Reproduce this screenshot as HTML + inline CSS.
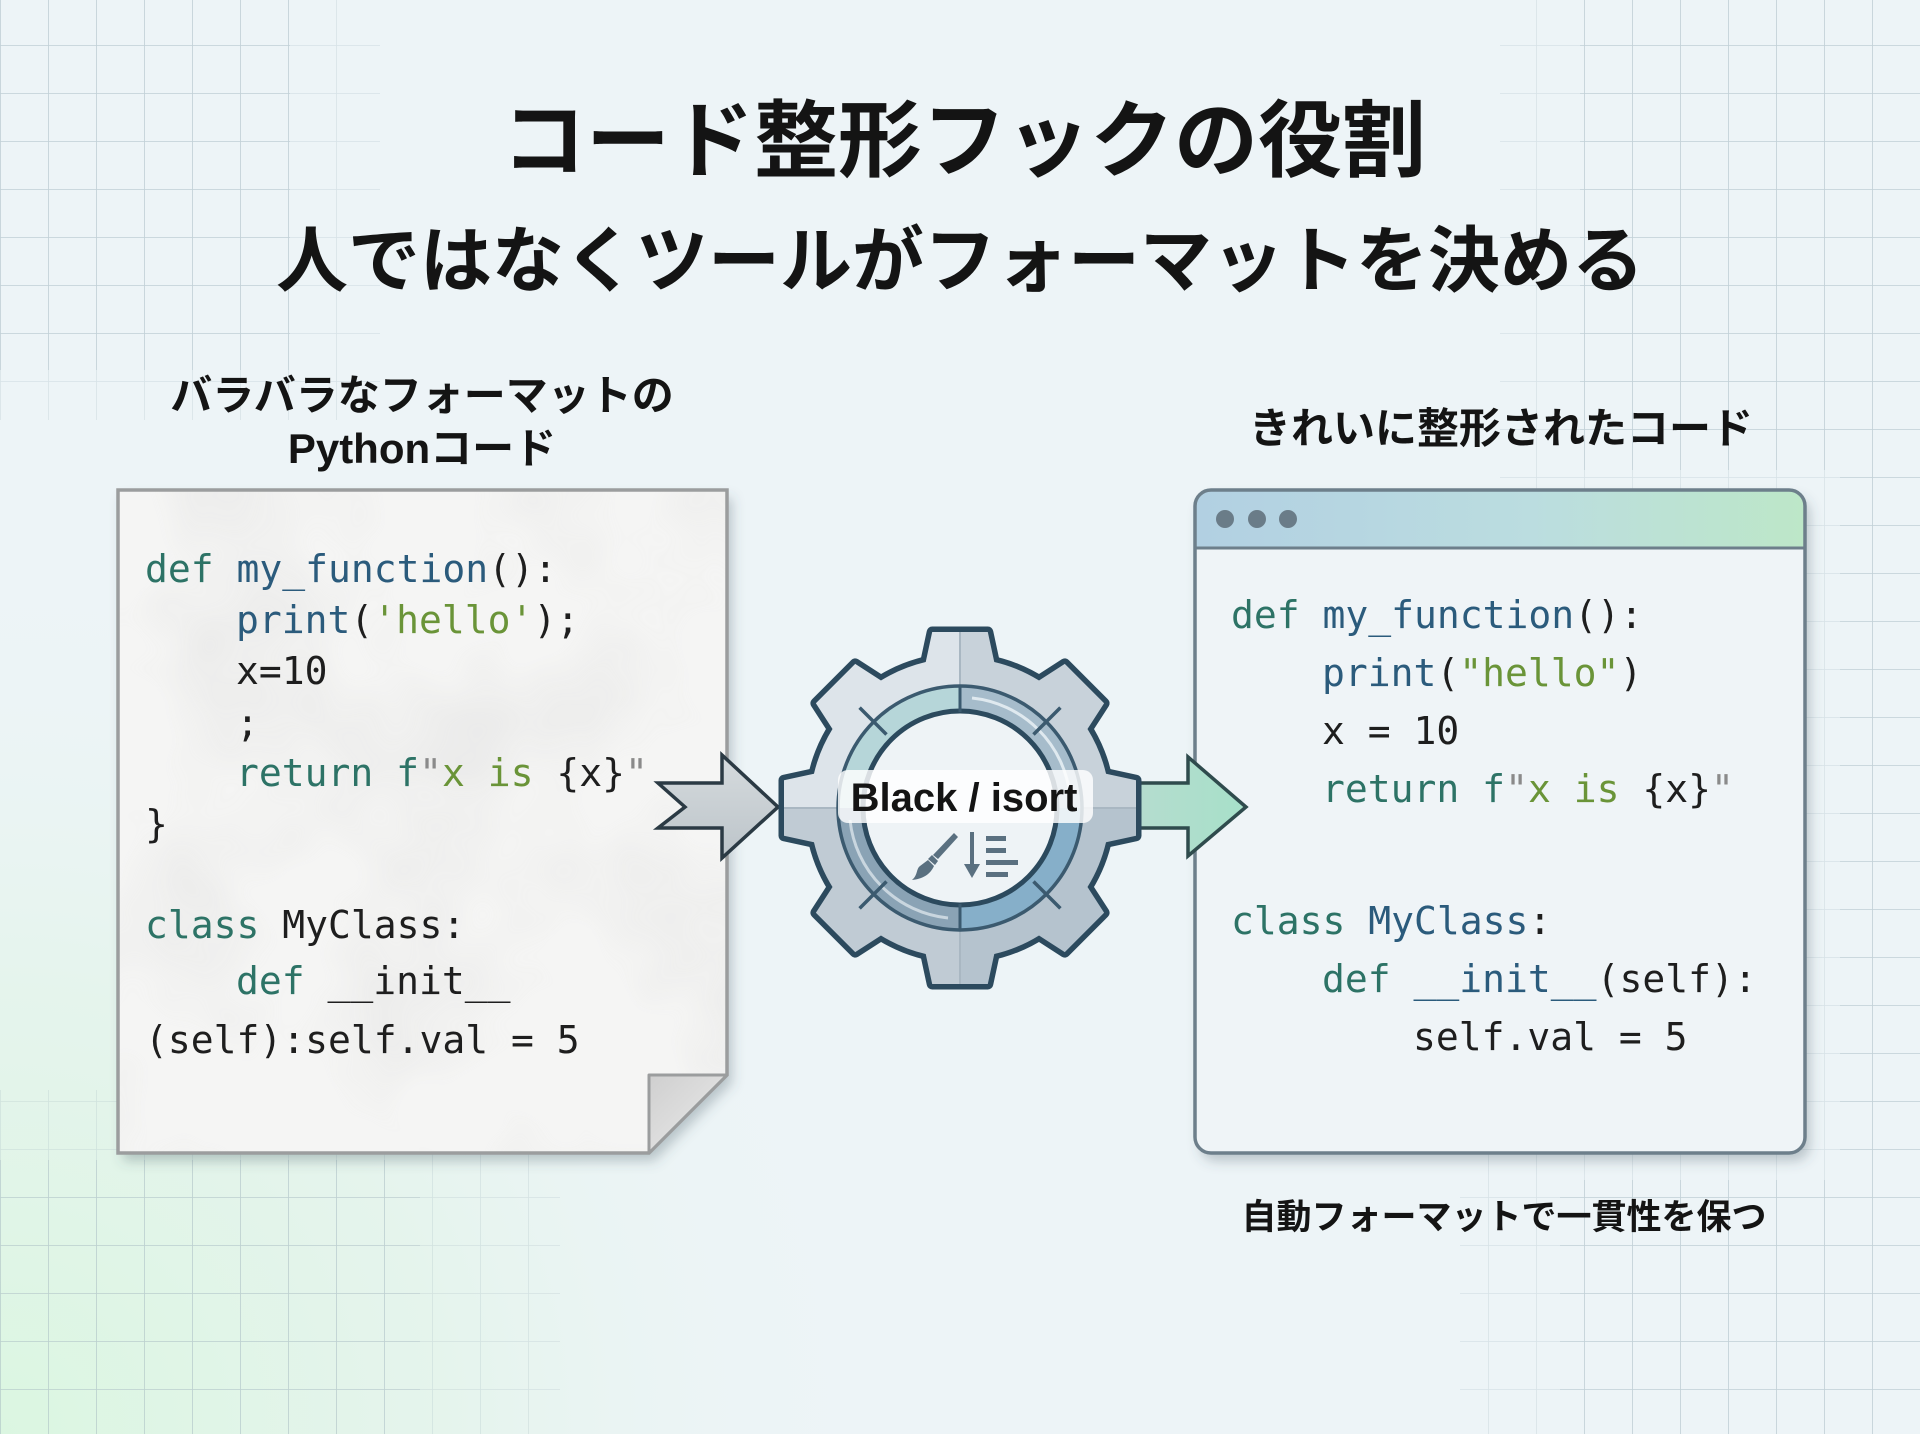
<!DOCTYPE html>
<html><head><meta charset="utf-8"><style>
html,body{margin:0;padding:0;width:1920px;height:1434px;overflow:hidden;background:#edf4f7}
svg{display:block}
.jp{font-family:"Liberation Sans","Noto Sans CJK JP",sans-serif;font-weight:700;fill:#141414}
.code{font-family:"DejaVu Sans Mono","Liberation Mono",monospace;font-size:38px;fill:#1e1e1e}
.k{fill:#2d7366}.b{fill:#2b5b7c}.s{fill:#6a9438}.g{fill:#8a8a8a}
</style></head><body>
<svg width="1920" height="1434" viewBox="0 0 1920 1434" xmlns="http://www.w3.org/2000/svg">
<defs>
  <pattern id="grid" x="0" y="-3" width="48" height="48" patternUnits="userSpaceOnUse">
    <path d="M0 0H48M0 0V48" stroke="#9fb3bc" stroke-width="1.6" fill="none" opacity="0.55"/>
  </pattern>
  <clipPath id="gcore">
    <rect x="0" y="0" width="290" height="370"/>
    <rect x="1580" y="0" width="340" height="470"/>
    <rect x="1840" y="0" width="80" height="1434"/>
    <rect x="0" y="1160" width="420" height="274"/>
    <rect x="1560" y="1180" width="360" height="254"/>
  </clipPath>
  <clipPath id="gouter">
    <rect x="0" y="0" width="380" height="420"/>
    <rect x="1500" y="0" width="420" height="540"/>
    <rect x="1800" y="0" width="120" height="1434"/>
    <rect x="0" y="1090" width="560" height="344"/>
    <rect x="1460" y="1110" width="460" height="324"/>
  </clipPath>
  <radialGradient id="greenbl" cx="0" cy="1434" r="900" gradientUnits="userSpaceOnUse">
    <stop offset="0" stop-color="#dbf6e1"/>
    <stop offset="0.5" stop-color="#e3f4ea" stop-opacity="0.8"/>
    <stop offset="1" stop-color="#edf4f7" stop-opacity="0"/>
  </radialGradient>
  <filter id="shadow" x="-10%" y="-10%" width="125%" height="125%">
    <feDropShadow dx="5" dy="8" stdDeviation="6" flood-color="#3c5260" flood-opacity="0.3"/>
  </filter>
  <filter id="crumple" x="0" y="0" width="100%" height="100%">
    <feTurbulence type="fractalNoise" baseFrequency="0.006" numOctaves="3" seed="7" result="n"/>
    <feColorMatrix in="n" type="matrix" values="0 0 0 0 0.6  0 0 0 0 0.6  0 0 0 0 0.6  0 0 0 -1.4 0.85" result="c"/>
    <feComposite in="c" in2="SourceGraphic" operator="in"/>
  </filter>
  <linearGradient id="fold" x1="0" y1="0" x2="1" y2="1">
    <stop offset="0" stop-color="#cfcfcf"/>
    <stop offset="1" stop-color="#ececec"/>
  </linearGradient>
  <linearGradient id="hdr" x1="0" y1="0" x2="1" y2="0">
    <stop offset="0" stop-color="#b2d0e2"/>
    <stop offset="0.55" stop-color="#bbdde0"/>
    <stop offset="1" stop-color="#bde7c8"/>
  </linearGradient>
  <clipPath id="winclip"><rect x="1195" y="490" width="610" height="663" rx="16"/></clipPath>
  <linearGradient id="la" x1="0" y1="0" x2="0" y2="1">
    <stop offset="0" stop-color="#d6dbde"/>
    <stop offset="1" stop-color="#bcc4c9"/>
  </linearGradient>
  <linearGradient id="ra" x1="0" y1="0" x2="1" y2="0">
    <stop offset="0" stop-color="#b6dccf"/>
    <stop offset="1" stop-color="#a7e0c9"/>
  </linearGradient>
  <polygon id="tooth" points="-27.8,-176 27.8,-176 36,-138 -36,-138"/>
  <clipPath id="gearclip">
    <circle r="150"/>
    <use href="#tooth"/>
    <use href="#tooth" transform="rotate(45)"/>
    <use href="#tooth" transform="rotate(90)"/>
    <use href="#tooth" transform="rotate(135)"/>
    <use href="#tooth" transform="rotate(180)"/>
    <use href="#tooth" transform="rotate(225)"/>
    <use href="#tooth" transform="rotate(270)"/>
    <use href="#tooth" transform="rotate(315)"/>
  </clipPath>
</defs>

<!-- background -->
<rect width="1920" height="1434" fill="#edf4f7"/>
<rect width="1920" height="1434" fill="url(#greenbl)"/>
<g clip-path="url(#gouter)" opacity="0.5"><rect width="1920" height="1434" fill="url(#grid)"/></g>
<g clip-path="url(#gcore)" opacity="0.7"><rect width="1920" height="1434" fill="url(#grid)"/></g>

<!-- titles -->
<text class="jp" x="964" y="170" font-size="84" text-anchor="middle">コード整形フックの役割</text>
<text class="jp" x="960" y="286" font-size="72" text-anchor="middle">人ではなくツールがフォーマットを決める</text>
<text class="jp" x="422" y="410" font-size="42" text-anchor="middle">バラバラなフォーマットの</text>
<text class="jp" x="422" y="463" font-size="42" text-anchor="middle">Pythonコード</text>
<text class="jp" x="1501" y="443" font-size="42" text-anchor="middle">きれいに整形されたコード</text>
<text class="jp" x="1504" y="1229" font-size="35" text-anchor="middle">自動フォーマットで一貫性を保つ</text>

<!-- left paper -->
<g filter="url(#shadow)">
  <path d="M118 490H727V1075L649 1153H118Z" fill="#f5f5f4"/>
</g>
<path d="M118 490H727V1075L649 1153H118Z" fill="#fff" filter="url(#crumple)" opacity="0.35"/>
<path d="M118 490H727V1075L649 1153H118Z" fill="none" stroke="#9b9d9e" stroke-width="3.5"/>
<path d="M649 1075H727L649 1153Z" fill="url(#fold)" stroke="#9b9d9e" stroke-width="3" stroke-linejoin="round"/>

<g class="code" xml:space="preserve">
<text x="145" y="582"><tspan class="k">def</tspan> <tspan class="b">my_function</tspan>():</text>
<text x="236" y="633"><tspan class="b">print</tspan>(<tspan class="s">'hello'</tspan>);</text>
<text x="236" y="684">x=10</text>
<text x="236" y="736">;</text>
<text x="236" y="786"><tspan class="k">return</tspan> <tspan class="k">f</tspan><tspan class="g">"</tspan><tspan class="s">x is</tspan> {x}<tspan class="g">"</tspan></text>
<text x="145" y="837">}</text>
<text x="145" y="938"><tspan class="k">class</tspan> MyClass:</text>
<text x="236" y="994"><tspan class="k">def</tspan> __init__</text>
<text x="145" y="1053">(self):self.val = 5</text>
</g>

<!-- right window -->
<g filter="url(#shadow)">
  <rect x="1195" y="490" width="610" height="663" rx="16" fill="#eff4f7"/>
</g>
<g clip-path="url(#winclip)">
  <rect x="1195" y="490" width="610" height="58" fill="url(#hdr)"/>
</g>
<line x1="1195" y1="548" x2="1805" y2="548" stroke="#6d7f8b" stroke-width="3"/>
<rect x="1195" y="490" width="610" height="663" rx="16" fill="none" stroke="#6d7f8b" stroke-width="3.5"/>
<circle cx="1225" cy="519" r="9" fill="#6a7c88"/>
<circle cx="1257" cy="519" r="9" fill="#6a7c88"/>
<circle cx="1288" cy="519" r="9" fill="#6a7c88"/>

<g class="code" xml:space="preserve">
<text x="1231" y="628"><tspan class="k">def</tspan> <tspan class="b">my_function</tspan>():</text>
<text x="1322" y="686"><tspan class="b">print</tspan>(<tspan class="s">"hello"</tspan>)</text>
<text x="1322" y="744">x = 10</text>
<text x="1322" y="802"><tspan class="k">return</tspan> <tspan class="k">f</tspan><tspan class="g">"</tspan><tspan class="s">x is</tspan> {x}<tspan class="g">"</tspan></text>
<text x="1231" y="934"><tspan class="k">class</tspan> <tspan class="b">MyClass</tspan>:</text>
<text x="1322" y="992"><tspan class="k">def</tspan> <tspan class="b">__init__</tspan>(self):</text>
<text x="1413" y="1050">self.val = 5</text>
</g>

<!-- arrows -->
<polygon points="658,783 722,783 722,755 778,807 722,858 722,828 658,828 685,807" fill="url(#la)" stroke="#2b3a44" stroke-width="3.5" stroke-linejoin="miter"/>
<polygon points="1128,783 1188,783 1188,757 1246,807 1188,856 1188,828 1128,828" fill="url(#ra)" stroke="#2f4b4d" stroke-width="3.5" stroke-linejoin="miter"/>

<!-- gear -->
<g transform="translate(960,808)">
  <g fill="#2c4a5e" stroke="#2c4a5e" stroke-width="11" stroke-linejoin="round">
    <circle r="150"/>
    <use href="#tooth"/>
    <use href="#tooth" transform="rotate(45)"/>
    <use href="#tooth" transform="rotate(90)"/>
    <use href="#tooth" transform="rotate(135)"/>
    <use href="#tooth" transform="rotate(180)"/>
    <use href="#tooth" transform="rotate(225)"/>
    <use href="#tooth" transform="rotate(270)"/>
    <use href="#tooth" transform="rotate(315)"/>
  </g>
  <g clip-path="url(#gearclip)">
    <rect x="-190" y="-190" width="190" height="190" fill="#dde4ea"/>
    <rect x="0" y="-190" width="190" height="190" fill="#c8d2da"/>
    <rect x="-190" y="0" width="190" height="190" fill="#c0cbd4"/>
    <rect x="0" y="0" width="190" height="190" fill="#b5c3ce"/>
    <line x1="0" y1="-190" x2="0" y2="190" stroke="#a9b7c2" stroke-width="2"/>
    <line x1="-190" y1="0" x2="190" y2="0" stroke="#a9b7c2" stroke-width="2"/>
  </g>
  <!-- ring -->
  <path d="M-122 0A122 122 0 0 1 0-122L0-97A97 97 0 0 0-97 0Z" fill="#b6d6d9"/>
  <path d="M0-122A122 122 0 0 1 122 0L97 0A97 97 0 0 0 0-97Z" fill="#a6bccb"/>
  <path d="M122 0A122 122 0 0 1 0 122L0 97A97 97 0 0 0 97 0Z" fill="#86afc9"/>
  <path d="M0 122A122 122 0 0 1-122 0L-97 0A97 97 0 0 0 0 97Z" fill="#8aa3b5"/>
  <path d="M12-110A110 110 0 0 1 110-12" fill="none" stroke="#dfe9ef" stroke-width="3"/>
  <path d="M-12 110A110 110 0 0 1-110 12" fill="none" stroke="#c9d6df" stroke-width="3"/>
  <circle r="95" fill="#eef3f6"/>
  <circle r="122" fill="none" stroke="#3b5a6f" stroke-width="3.5"/>
  <circle r="97" fill="none" stroke="#2c4a5e" stroke-width="5"/>
  <line x1="0" y1="-123" x2="0" y2="-96" stroke="#3b5a6f" stroke-width="3"/>
  <line x1="0" y1="96" x2="0" y2="123" stroke="#3b5a6f" stroke-width="3"/>
  <g stroke="#3b5a6f" stroke-width="3.5">
    <line x1="73.5" y1="-73.5" x2="100.4" y2="-100.4"/>
    <line x1="-73.5" y1="-73.5" x2="-100.4" y2="-100.4"/>
    <line x1="73.5" y1="73.5" x2="100.4" y2="100.4"/>
    <line x1="-73.5" y1="73.5" x2="-100.4" y2="100.4"/>
  </g>
  <!-- label -->
  <rect x="-122" y="-38" width="255" height="53" rx="10" fill="#ffffff" fill-opacity="0.82"/>
  <text x="4" y="3" font-family="'Liberation Sans',sans-serif" font-weight="700" font-size="40" fill="#141414" text-anchor="middle">Black / isort</text>
  <!-- brush icon -->
  <g fill="#5a7080" transform="translate(-36,45)">
    <path d="M30-20 L34-16 L14 6 L9 2 Z"/>
    <path d="M8 2 L14 8 L11 12 L4 6 Z"/>
    <path d="M4 7 L10 13 C6 22 -2 26 -12 27 C-6 22 -8 16 -4 13 Z"/>
  </g>
  <!-- sort icon -->
  <g fill="#5a7080">
    <rect x="10" y="24" width="4" height="36"/>
    <polygon points="4,56 20,56 12,70"/>
    <rect x="26" y="28" width="20" height="5"/>
    <rect x="26" y="40" width="20" height="5"/>
    <rect x="26" y="52" width="32" height="5"/>
    <rect x="26" y="64" width="22" height="5"/>
  </g>
</g>
</svg>
</body></html>
